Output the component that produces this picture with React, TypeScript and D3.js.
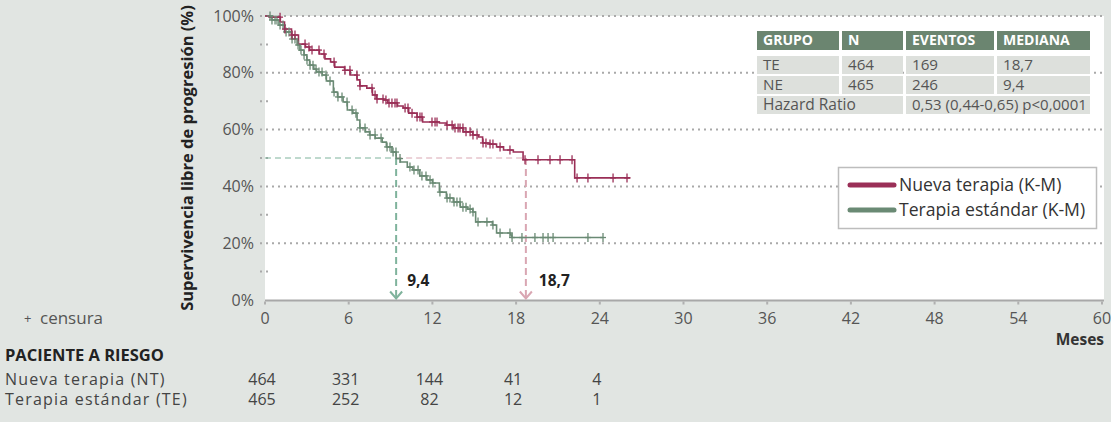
import React from "react";
import * as d3 from "d3";

// ---- data ----
const xTicks = [0, 6, 12, 18, 24, 30, 36, 42, 48, 54, 60];
const yTicks = [0, 20, 40, 60, 80, 100];
const yMinor = [10, 30, 50, 70, 90];

// Kaplan-Meier step points [month, survival %]
const ntTimes = [0, 0.3, 1.1, 1.4, 1.9, 2.4, 2.9, 3.2, 3.9, 4.3, 4.7, 5.0, 5.7, 6.1, 6.6, 6.8, 7.3, 7.7, 8.0, 8.5, 8.8, 9.5, 9.9, 10.3, 10.9, 11.3, 12.5, 13.0, 13.5, 14.2, 14.9, 15.3, 15.6, 16.1, 16.6, 17.1, 17.8, 18.5, 22.2];
const ntSurv = [100, 99.6, 97.9, 95.4, 93.3, 90.1, 89.1, 88.0, 86.6, 84.9, 83.8, 82.0, 80.9, 79.2, 77.5, 75.4, 74.6, 72.2, 70.8, 70.4, 69.4, 68.3, 67.6, 65.8, 64.4, 62.7, 62.3, 61.6, 60.6, 59.2, 58.1, 57.4, 55.3, 54.9, 53.9, 52.8, 52.1, 49.4, 43.0];
const ntEnd = 26.2;
const ntCensor = [1.08, 1.43, 1.94, 2.15, 2.87, 3.15, 3.37, 3.87, 4.23, 4.95, 5.73, 6.09, 6.59, 6.81, 7.67, 7.89, 8.03, 8.46, 8.67, 8.89, 9.1, 9.32, 9.46, 10.04, 10.25, 10.54, 10.9, 11.11, 11.25, 11.97, 12.19, 12.33, 13.05, 13.41, 13.62, 13.84, 13.98, 14.19, 14.41, 14.7, 14.91, 15.2, 15.63, 15.84, 16.13, 16.34, 16.85, 17.56, 18.64, 19.57, 20.43, 21.15, 22.01, 22.37, 23.15, 24.95, 25.95];

const teTimes = [0, 0.5, 1.0, 1.4, 1.9, 2.3, 2.5, 2.8, 3.0, 3.2, 3.5, 3.7, 4.1, 4.4, 4.9, 5.2, 5.6, 5.9, 6.3, 6.6, 6.8, 7.2, 7.5, 7.9, 8.4, 8.7, 9.1, 9.4, 9.7, 10.2, 10.6, 11.1, 11.6, 12.0, 12.5, 13.0, 13.5, 14.0, 14.5, 14.9, 15.1, 16.3, 16.6, 17.6, 17.7];
const teSurv = [100, 98.6, 96.8, 94.4, 91.9, 89.8, 88.0, 86.3, 84.5, 82.7, 81.3, 80.3, 79.2, 77.1, 73.2, 71.5, 69.7, 66.9, 65.8, 63.4, 60.6, 59.2, 58.1, 57.0, 55.6, 53.9, 52.1, 49.8, 48.6, 46.8, 45.8, 43.7, 42.3, 41.2, 38.0, 35.9, 34.5, 32.7, 32.0, 31.0, 27.5, 26.4, 23.6, 22.9, 22.0];
const teEnd = 24.2;
const teCensor = [0.36, 0.5, 0.72, 0.86, 1.08, 1.29, 1.51, 1.72, 1.94, 2.15, 2.37, 2.58, 2.8, 3.01, 3.23, 3.44, 3.66, 3.87, 4.09, 4.37, 4.66, 4.95, 5.23, 5.52, 5.88, 6.24, 6.52, 6.81, 7.17, 7.53, 7.89, 8.32, 8.75, 8.96, 9.18, 9.39, 9.68, 10.39, 10.68, 10.97, 11.25, 11.54, 11.83, 12.04, 12.54, 13.05, 13.26, 13.55, 13.76, 13.98, 14.19, 14.41, 14.7, 14.91, 15.27, 15.91, 16.34, 16.85, 17.56, 17.71, 18.42, 19.35, 19.93, 20.29, 20.65, 23.15, 24.23];

const medianTE = 9.4;
const medianNT = 18.7;

const riskTimes = [0, 6, 12, 18, 24];
const riskNT = [464, 331, 144, 41, 4];
const riskTE = [465, 252, 82, 12, 1];

const tableHeader = ["GRUPO", "N", "EVENTOS", "MEDIANA"];
const tableRow1 = ["TE", "464", "169", "18,7"];
const tableRow2 = ["NE", "465", "246", "9,4"];
const hrLabel = "Hazard Ratio";
const hrValue = "0,53 (0,44-0,65) p<0,0001";

const RED = "#9a2f57";
const GREEN = "#6a8a74";
const FONT = "'Open Sans', 'Noto Sans', sans-serif";

function survAt(times: number[], surv: number[], t: number) {
  const i = d3.bisectRight(times, t) - 1;
  return surv[Math.max(0, i)];
}

export default function App() {
  const x = d3.scaleLinear().domain([0, 60]).range([265, 1102]);
  const y = d3.scaleLinear().domain([0, 100]).range([300, 16]);

  const line = d3
    .line<[number, number]>()
    .x((d) => x(d[0]))
    .y((d) => y(d[1]))
    .curve(d3.curveStepAfter);

  const ntPts: [number, number][] = ntTimes.map((t, i) => [t, ntSurv[i]]);
  ntPts.push([ntEnd, ntSurv[ntSurv.length - 1]]);
  const tePts: [number, number][] = teTimes.map((t, i) => [t, teSurv[i]]);
  tePts.push([teEnd, teSurv[teSurv.length - 1]]);

  const censorMarks = (times: number[], st: number[], sv: number[], color: string, key: string) =>
    times.map((t, i) => {
      const cx = x(t);
      const cy = y(survAt(st, sv, t));
      return (
        <g key={key + i} stroke={color} strokeWidth={1.3}>
          <line x1={cx} x2={cx} y1={cy - 4.5} y2={cy + 4.5} />
          <line x1={cx - 3} x2={cx + 3} y1={cy} y2={cy} />
        </g>
      );
    });

  const cols = [
    [757, 839],
    [842, 903],
    [906, 994],
    [997, 1090],
  ];
  const rowsY = [
    [56, 74],
    [76, 94],
    [96, 114],
  ];
  const cellFill = "#dde0dc";
  const txt = "#555";

  const xm1 = x(medianTE);
  const xm2 = x(medianNT);
  const y50 = y(50);
  const yAxis = 300.5;

  return (
    <svg
      width={1111}
      height={422}
      style={{ position: "absolute", left: 0, top: 0, fontFamily: FONT }}
    >
      <rect x={0} y={0} width={1111} height={422} fill="#e1e5e2" />
      <rect x={265} y={16} width={839} height={284} fill="#ffffff" />

      {/* grid */}
      {yTicks.filter((v) => v > 0).map((v) => (
        <line key={"g" + v} x1={260} x2={1104} y1={y(v)} y2={y(v)} stroke="#a9a9a9" strokeWidth={2} strokeDasharray="2,4" />
      ))}
      {yMinor.map((v) => (
        <line key={"m" + v} x1={260} x2={270} y1={y(v)} y2={y(v)} stroke="#a9a9a9" strokeWidth={2} strokeDasharray="2,4" />
      ))}

      {/* y tick labels */}
      {yTicks.map((v) => (
        <text key={"yt" + v} x={254} y={y(v)} dy="0.35em" textAnchor="end" fontSize={16} fill={txt}>
          {v}%
        </text>
      ))}
      <text
        transform={`translate(187,158) rotate(-90)`}
        textAnchor="middle"
        fontSize={16.5}
        fontWeight={700}
        fill="#222"
        dy="0.35em"
      >
        Supervivencia libre de progresión (%)
      </text>

      {/* x axis */}
      <line x1={265} x2={1104} y1={yAxis} y2={yAxis} stroke="#a8a8a8" strokeWidth={2} />
      {xTicks.map((v) => (
        <g key={"xt" + v}>
          <rect x={x(v) - 1} y={yAxis + 1} width={2} height={3} fill="#b0b0b0" />
          <text x={x(v)} y={318} dy="0.35em" textAnchor="middle" fontSize={16} fill={txt}>
            {v}
          </text>
        </g>
      ))}
      <text x={1104} y={340} dy="0.35em" textAnchor="end" fontSize={15.5} fontWeight={700} fill="#333">
        Meses
      </text>

      {/* median guides */}
      <line x1={x(0)} x2={xm1} y1={y50} y2={y50} stroke="#7fb39c" strokeWidth={1} strokeDasharray="6,4" />
      <line x1={xm1} x2={xm2} y1={y50} y2={y50} stroke="#d9a6b2" strokeWidth={1} strokeDasharray="6,4" />
      <line x1={xm1} x2={xm1} y1={y50} y2={yAxis - 2} stroke="#7fb39c" strokeWidth={2} strokeDasharray="7,4" />
      <line x1={xm2} x2={xm2} y1={y50} y2={yAxis - 2} stroke="#d9a6b2" strokeWidth={2} strokeDasharray="7,4" />
      <path d={`M${xm1 - 6},${yAxis - 9} L${xm1},${yAxis - 2} L${xm1 + 6},${yAxis - 9}`} fill="none" stroke="#7fb39c" strokeWidth={2} />
      <path d={`M${xm2 - 6},${yAxis - 9} L${xm2},${yAxis - 2} L${xm2 + 6},${yAxis - 9}`} fill="none" stroke="#d9a6b2" strokeWidth={2} />
      <text x={xm1 + 11} y={281} dy="0.35em" fontSize={15.5} fontWeight={700} fill="#222">
        {String(medianTE).replace(".", ",")}
      </text>
      <text x={xm2 + 13} y={281} dy="0.35em" fontSize={15.5} fontWeight={700} fill="#222">
        {String(medianNT).replace(".", ",")}
      </text>

      {/* curves */}
      <path d={line(tePts) || ""} fill="none" stroke={GREEN} strokeWidth={1.6} />
      <path d={line(ntPts) || ""} fill="none" stroke={RED} strokeWidth={1.6} />
      {censorMarks(teCensor, teTimes, teSurv, GREEN, "tc")}
      {censorMarks(ntCensor, ntTimes, ntSurv, RED, "nc")}

      {/* summary table */}
      <rect x={757} y={30} width={333} height={19.5} fill="#ffffff" />
      {cols.map((c, i) => (
        <g key={"h" + i}>
          <rect x={c[0]} y={31} width={c[1] - c[0]} height={19} fill="#6b8570" />
          <text x={c[0] + 6} y={40.5} dy="0.35em" fontSize={14} fontWeight={700} fill="#ffffff">
            {tableHeader[i]}
          </text>
        </g>
      ))}
      {[tableRow1, tableRow2].map((row, r) =>
        cols.map((c, i) => (
          <g key={"r" + r + i}>
            <rect x={c[0]} y={rowsY[r][0]} width={c[1] - c[0]} height={rowsY[r][1] - rowsY[r][0]} fill={cellFill} />
            <text x={c[0] + 6} y={(rowsY[r][0] + rowsY[r][1]) / 2} dy="0.35em" fontSize={15.2} fill={txt}>
              {row[i]}
            </text>
          </g>
        ))
      )}
      <rect x={cols[0][0]} y={rowsY[2][0]} width={cols[1][1] - cols[0][0]} height={rowsY[2][1] - rowsY[2][0]} fill={cellFill} />
      <text x={cols[0][0] + 6} y={(rowsY[2][0] + rowsY[2][1]) / 2} dy="0.35em" fontSize={15.5} fill={txt}>
        {hrLabel}
      </text>
      <rect x={cols[2][0]} y={rowsY[2][0]} width={cols[3][1] - cols[2][0]} height={rowsY[2][1] - rowsY[2][0]} fill={cellFill} />
      <text x={cols[2][0] + 6} y={(rowsY[2][0] + rowsY[2][1]) / 2} dy="0.35em" fontSize={15} fill={txt}>
        {hrValue}
      </text>

      {/* legend */}
      <rect x={838.5} y={167.5} width={258} height={61} fill="#ffffff" stroke="#bdbdbd" strokeWidth={1.5} />
      <line x1={850} x2={894} y1={185} y2={185} stroke={RED} strokeWidth={5} strokeLinecap="round" />
      <text x={899} y={185} dy="0.35em" fontSize={17.6} fill="#333">Nueva terapia (K-M)</text>
      <line x1={850} x2={894} y1={210} y2={210} stroke={GREEN} strokeWidth={5} strokeLinecap="round" />
      <text x={899} y={210} dy="0.35em" fontSize={17.6} fill="#333">Terapia estándar (K-M)</text>

      {/* left notes & risk table */}
      <text x={24} y={318} dy="0.35em" fontSize={13} fill={txt}>+</text>
      <text x={40} y={318} dy="0.35em" fontSize={17} fill={txt}>censura</text>
      <text x={5} y={355} dy="0.35em" fontSize={16.5} fontWeight={700} fill="#222">PACIENTE A RIESGO</text>
      <text x={5} y={379} dy="0.35em" fontSize={16} letterSpacing={1.2} fill="#444">Nueva terapia (NT)</text>
      <text x={5} y={399} dy="0.35em" fontSize={16} letterSpacing={1.2} fill="#444">Terapia estándar (TE)</text>
      {riskTimes.map((t, i) => (
        <g key={"rk" + i}>
          <text x={x(t) - 3} y={379} dy="0.35em" textAnchor="middle" fontSize={16} fill="#444">
            {riskNT[i]}
          </text>
          <text x={x(t) - 3} y={399} dy="0.35em" textAnchor="middle" fontSize={16} fill="#444">
            {riskTE[i]}
          </text>
        </g>
      ))}
    </svg>
  );
}
